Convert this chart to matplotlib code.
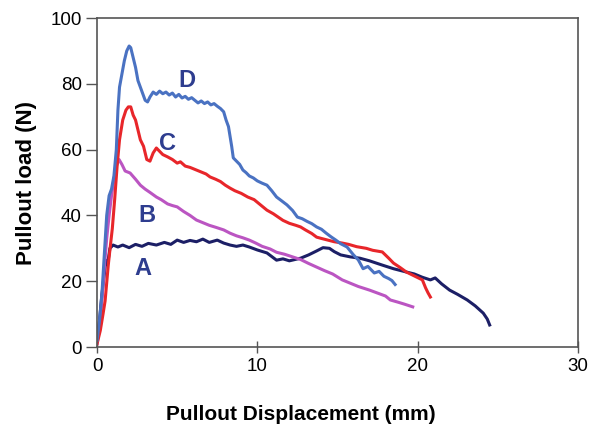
import matplotlib
matplotlib.use("Agg")
import matplotlib.pyplot as plt

plt.rcParams['font.family'] = ['Liberation Sans', 'DejaVu Sans']

# Curve D (blue)
D_x = [0, 0.15, 0.3, 0.45, 0.6, 0.75, 0.9, 1.05, 1.2, 1.3, 1.4, 1.55, 1.7, 1.85, 2.0, 2.1, 2.25, 2.4, 2.55,
       2.7, 2.85, 3.0, 3.15, 3.3, 3.5, 3.7, 3.9, 4.1, 4.3, 4.5, 4.7, 4.9, 5.1, 5.3, 5.5, 5.7, 5.9, 6.1, 6.3,
       6.5, 6.7, 6.9, 7.1, 7.3, 7.5, 7.7, 7.9, 8.05, 8.2, 8.3, 8.4, 8.5, 8.7, 8.9, 9.1, 9.3, 9.5, 9.75, 10.0,
       10.3, 10.6, 10.9, 11.2, 11.5, 11.85, 12.2, 12.5, 12.8, 13.1, 13.4, 13.7, 14.0, 14.3, 14.6, 14.9, 15.2,
       15.6, 16.0, 16.3, 16.6, 16.9, 17.3, 17.6, 17.9, 18.2, 18.4, 18.6]
D_y = [2, 8, 16, 28, 40, 46, 48, 52, 60, 72, 79, 83, 87, 90, 91.5, 91, 88, 85, 81,
       79, 77, 75, 74.5, 76, 77.5, 76.8, 77.8, 77, 77.5, 76.6, 77.2, 76, 76.8, 75.7, 76.2, 75.3, 75.8, 75, 74.2,
       74.8, 74, 74.5, 73.6, 74, 73.2, 72.5, 71.5, 69, 67, 64, 61, 57.5, 56.5, 55.5, 53.8, 53, 52, 51.4, 50.5,
       49.8, 49.2, 47.5, 45.6, 44.5, 43.2, 41.5, 39.5, 39, 38.2, 37.5, 36.5, 35.8, 34.6, 33.5, 32.5, 31.4,
       30.4, 28, 26.5, 23.8, 24.5, 22.5, 23, 21.5, 20.8, 20.2, 19]

# Curve C (red)
C_x = [0, 0.2, 0.37, 0.5, 0.6, 0.7, 0.8, 0.95, 1.1, 1.25, 1.4, 1.6, 1.8, 1.95, 2.1, 2.25, 2.4, 2.55, 2.7,
       2.9, 3.1, 3.3, 3.5, 3.7, 3.9, 4.1, 4.4, 4.7, 5.0, 5.2, 5.5, 5.8, 6.2, 6.5, 6.8, 7.05, 7.4, 7.7, 8.0,
       8.3, 8.6, 9.0, 9.4, 9.8, 10.2, 10.6, 11.0, 11.3, 11.6, 12.0, 12.4, 12.7, 13.0, 13.4, 13.7, 14.0, 14.4,
       14.8, 15.3, 15.7, 16.2, 16.8, 17.2, 17.8, 18.2, 18.5, 18.9, 19.3, 19.8, 20.3, 20.5, 20.65, 20.8]
C_y = [1, 5, 10, 14, 19.5, 25, 29.5, 36, 45, 55, 63, 69, 72, 73, 73, 70.5, 69, 66, 63,
       61, 57, 56.5, 59, 60.5, 59.5, 58.5, 57.8, 57, 55.9, 56.3, 55, 54.6, 53.8, 53.2, 52.6, 51.7, 51, 50.3, 49.2,
       48.3, 47.5, 46.7, 45.6, 44.8, 43.2, 41.6, 40.5, 39.5, 38.5, 37.6, 37, 36.5, 35.6, 34.5, 33.4, 33, 32.5,
       32, 31.6, 31.2, 30.5, 30, 29.4, 28.9, 27, 25.5, 24.2, 22.8, 21.6, 20.4, 18, 16.5, 15.2]

# Curve B (magenta)
B_x = [0, 0.15, 0.3, 0.45, 0.6, 0.75, 0.9, 1.05, 1.2, 1.37, 1.55, 1.75, 2.06, 2.4, 2.7, 3.0, 3.3, 3.7, 4.0,
       4.4, 4.7, 5.0, 5.4, 5.8, 6.2, 6.6, 7.0, 7.4, 7.9, 8.3, 8.7, 9.1, 9.5, 9.9, 10.3, 10.8, 11.2, 11.7, 12.2,
       12.7, 13.2, 13.7, 14.2, 14.7, 15.3, 15.8, 16.3, 17.0, 17.5, 18.0, 18.3, 18.8, 19.2, 19.7]
B_y = [1, 6, 14, 24, 33, 40, 46, 51, 55, 57, 55.5, 53.5, 52.9, 51, 49.2, 48, 47, 45.6, 44.8,
       43.5, 43, 42.6, 41.2, 40, 38.6, 37.8, 37, 36.4, 35.6, 34.6, 33.8, 33.2, 32.5, 31.6, 30.6, 29.8, 28.8, 28.2, 27.4,
       26.6, 25.4, 24.3, 23.2, 22.2, 20.4, 19.4, 18.4, 17.3, 16.4, 15.5, 14.3, 13.6, 13, 12.2]

# Curve A (navy)
A_x = [0, 0.15, 0.3, 0.45, 0.55, 0.65, 0.8, 1.0, 1.3, 1.6, 2.0, 2.4, 2.8, 3.2, 3.7, 4.2, 4.6, 5.0, 5.4,
       5.8, 6.2, 6.6, 7.0, 7.5, 7.9, 8.3, 8.7, 9.1, 9.5, 10.0, 10.6, 11.2, 11.6, 12.0, 12.7, 13.2, 13.7, 14.1,
       14.5, 14.8, 15.2, 15.8, 16.4, 17.0, 17.8, 18.5, 19.3, 19.8, 20.3, 20.8, 21.1, 21.5, 22.0, 22.5, 23.1,
       23.6, 24.1, 24.35, 24.5]
A_y = [2, 8, 16, 22, 26.4, 25, 30, 31, 30.4, 31, 30.2, 31.2, 30.6, 31.5, 31, 31.8, 31.2, 32.5, 31.8,
       32.4, 32, 32.8, 31.8, 32.5, 31.6, 31, 30.6, 31, 30.4, 29.5, 28.6, 26.4, 26.8, 26.2, 27, 28, 29.2, 30.2,
       30, 29, 28, 27.4, 27, 26.2, 24.9, 23.8, 22.8, 22.2, 21.2, 20.4, 21, 19.2, 17.3, 16, 14.3,
       12.5, 10.3, 8.5, 6.7]

labels = ["A", "B", "C", "D"]
label_pos = [(2.87, 24), (3.1, 40), (4.37, 62), (5.6, 81)]

fig = plt.figure(figsize=(5.92, 4.30), dpi=100)
ax = fig.add_axes([0.164, 0.193, 0.812, 0.765])

ax.plot(A_x, A_y, color="#1c1f66", lw=2.2)
ax.plot(B_x, B_y, color="#bb55c2", lw=2.2)
ax.plot(C_x, C_y, color="#e8262a", lw=2.2)
ax.plot(D_x, D_y, color="#4a72c2", lw=2.2)

for lab, (lx, ly) in zip(labels, label_pos):
    ax.text(lx, ly, lab, color="#2e3d8f", fontsize=17, fontweight="bold", ha="center", va="center")

ax.set_xlim(0, 30)
ax.set_ylim(0, 100)
ax.set_xticks([0, 10, 20, 30])
ax.set_yticks([0, 20, 40, 60, 80, 100])
for s in ax.spines.values():
    s.set_color("#555555")
    s.set_linewidth(1.2)
ax.tick_params(axis='y', direction='out', length=8, width=1, color="#555555", labelsize=13.5, pad=3)
ax.tick_params(axis='x', direction='inout', length=8, width=1, color="#555555", labelsize=13.5, pad=4)

ax.set_xlabel("Pullout Displacement (mm)", fontsize=15, fontweight="bold")
ax.set_ylabel("Pullout load (N)", fontsize=16, fontweight="bold")
ax.xaxis.set_label_coords(0.424, -0.175)
ax.yaxis.set_label_coords(-0.125, 0.5)

fig.savefig("out.png", dpi=100)
